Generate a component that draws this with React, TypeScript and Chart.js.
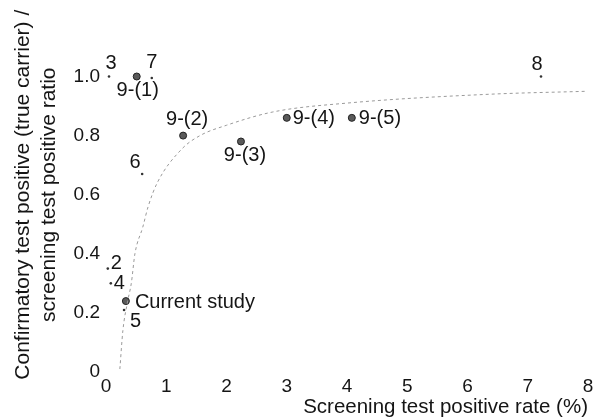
import React, { useEffect, useRef } from "react";
import { Chart, registerables } from "chart.js";

Chart.register(...registerables);

// Study points
const studyLabels = ["3", "7", "9-(1)", "9-(2)", "9-(3)", "9-(4)", "9-(5)", "8", "6", "2", "4", "Current study", "5"];
const studyX = [0.05, 0.76, 0.51, 1.28, 2.24, 3.0, 4.08, 7.22, 0.6, 0.03, 0.08, 0.33, 0.3];
const studyY = [1.0, 0.995, 1.0, 0.8, 0.78, 0.86, 0.86, 1.0, 0.67, 0.35, 0.3, 0.24, 0.21];

// Fitted curve
const curveX = [0.23, 0.28, 0.36, 0.42, 0.48, 0.61, 0.7, 0.85, 1.26, 1.56, 2.0, 2.77, 4.0, 6.37, 7.98];
const curveY = [0.01, 0.14, 0.24, 0.3, 0.4, 0.49, 0.56, 0.64, 0.755, 0.8, 0.835, 0.88, 0.91, 0.94, 0.95];

const xTicks = [0, 1, 2, 3, 4, 5, 6, 7, 8];
const yTicks = [0, 0.2, 0.4, 0.6, 0.8, 1.0];

const xTitle = "Screening test positive rate (%)";
const yTitle = ["Confirmatory test positive (true carrier) /", "screening test positive ratio"];

// label placement: [dx, dy, align]
const labelPlacement: [number, number, CanvasTextAlign][] = [
  [2, -13, "center"],
  [0, -15, "center"],
  [1, 14, "center"],
  [4, -16, "center"],
  [4, 14, "center"],
  [6, 1, "left"],
  [7, 1, "left"],
  [-4, -12, "center"],
  [-7, -12, "center"],
  [3, -5, "left"],
  [3, 0, "left"],
  [9, 1, "left"],
  [6, 12, "left"],
];

const FONT = "'Liberation Sans', Arial, Helvetica, sans-serif";
const TEXT = "#151515";

const isBig = (l: string) => l.startsWith("9-") || l === "Current study";

const labelPlugin = {
  id: "studyLabels",
  afterDatasetsDraw(chart: any) {
    const meta = chart.getDatasetMeta(1);
    const ctx = chart.ctx;
    ctx.save();
    ctx.font = `20px ${FONT}`;
    ctx.fillStyle = TEXT;
    ctx.textBaseline = "middle";
    meta.data.forEach((el: any, i: number) => {
      const [dx, dy, align] = labelPlacement[i];
      ctx.textAlign = align;
      ctx.fillText(studyLabels[i], el.x + dx, el.y + dy);
    });
    ctx.restore();
  },
};

export default function App() {
  const ref = useRef<HTMLCanvasElement>(null);
  useEffect(() => {
    document.body.style.margin = "0";
    const chart = new Chart(ref.current!, {
      type: "scatter",
      data: {
        datasets: [
          {
            type: "line",
            data: curveX.map((x, i) => ({ x, y: curveY[i] })),
            borderColor: "#9a9a9a",
            borderWidth: 1,
            borderDash: [3, 3],
            pointRadius: 0,
            cubicInterpolationMode: "monotone",
            fill: false,
          } as any,
          {
            data: studyX.map((x, i) => ({ x, y: studyY[i] })),
            pointRadius: studyLabels.map((l) => (isBig(l) ? 3.5 : 1.3)),
            pointBackgroundColor: studyLabels.map((l) => (isBig(l) ? "#5a5a5a" : "#333")),
            pointBorderColor: "#222",
            pointBorderWidth: studyLabels.map((l) => (isBig(l) ? 1 : 0)),
            clip: false,
          } as any,
        ],
      },
      options: {
        responsive: false,
        animation: false,
        layout: { padding: { top: 14, right: 14, left: 0, bottom: 0 } },
        plugins: { legend: { display: false }, tooltip: { enabled: false } },
        scales: {
          x: {
            type: "linear",
            min: 0,
            max: 8,
            grid: { display: false, drawTicks: false },
            border: { display: false },
            afterBuildTicks: (s: any) => {
              s.ticks = xTicks.map((v) => ({ value: v }));
            },
            afterFit: (s: any) => {
              s.height = 48;
            },
            ticks: {
              padding: 3,
              color: TEXT,
              font: { size: 19, family: FONT },
              callback: (v: any) => String(v),
            },
            title: {
              display: true,
              text: xTitle,
              align: "end",
              color: TEXT,
              font: { size: 20.5, family: FONT },
              padding: { top: 0, bottom: 0 },
            },
          },
          y: {
            type: "linear",
            min: 0,
            max: 1.2,
            grid: { display: false, drawTicks: false },
            border: { display: false },
            afterBuildTicks: (s: any) => {
              s.ticks = yTicks.map((v) => ({ value: v }));
            },
            afterFit: (s: any) => {
              s.width = 106;
            },
            ticks: {
              padding: 6,
              color: TEXT,
              font: { size: 19, family: FONT },
              callback: (v: any) => (v === 0 ? "0" : Number(v).toFixed(1)),
            },
            title: {
              display: true,
              text: yTitle,
              color: TEXT,
              font: { size: 21, family: FONT, lineHeight: 1.25 },
              padding: { top: 10, bottom: 0 },
            },
          },
        },
      },
      plugins: [labelPlugin],
    });
    return () => chart.destroy();
  }, []);
  return (
    <div style={{ width: 602, height: 420, background: "#fff" }}>
      <canvas ref={ref} width={602} height={420} />
    </div>
  );
}
